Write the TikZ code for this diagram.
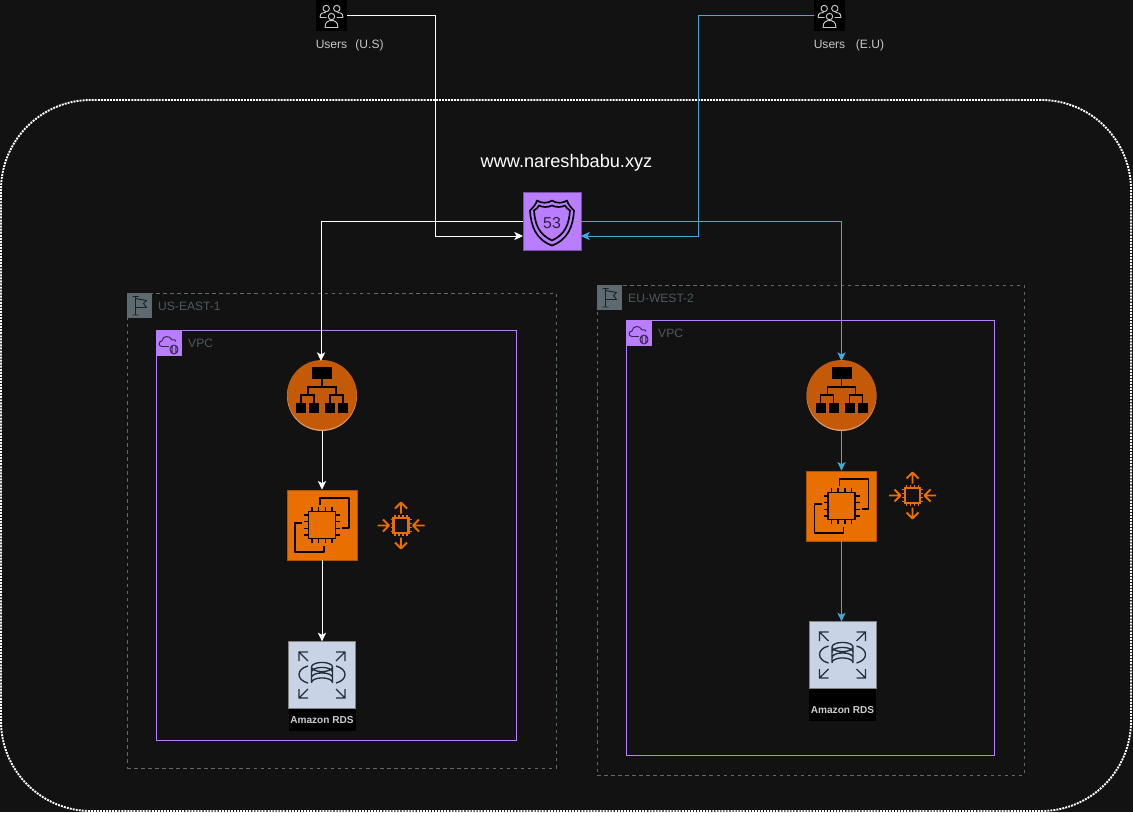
\documentclass[tikz,border=0pt]{standalone}
\usepackage{fontspec}
\setmainfont{Liberation Sans}
\usepackage{tikz}
\usetikzlibrary{arrows.meta, positioning, calc}
\definecolor{bgdark}{HTML}{121212}
\definecolor{wireblue}{HTML}{3FA9E0}
\definecolor{vpcpurple}{HTML}{B97DFF}
\definecolor{regiongrey}{HTML}{5D6B70}
\definecolor{textgrey}{HTML}{4E5A5E}
\definecolor{ec2orange}{HTML}{E86F00}
\definecolor{albbrown}{HTML}{C45A08}
\definecolor{rdsblue}{HTML}{C8D4E5}
\definecolor{inkdark}{HTML}{232F3E}

\begin{document}
\begin{tikzpicture}[
    x=0.03cm, y=-0.03cm,
    region/.style={rectangle, draw=regiongrey, dashed, line width=0.8pt, inner sep=0pt},
    vpcbox/.style={rectangle, draw=vpcpurple, line width=0.85pt, inner sep=0pt},
    tagbox/.style={rectangle, fill=#1, minimum size=0.765cm, inner sep=0pt},
    hlabel/.style={font=\fontsize{10.3}{12}\selectfont, text=textgrey, anchor=west, inner sep=0pt},
    userlabel/.style={font=\fontsize{10.3}{12}\selectfont, text=#1, inner sep=0pt},
    userlabel/.default={gray!45},
    rdslabel/.style={rectangle, fill=black, text=white!80!black, font=\fontsize{8.6}{10}\selectfont\bfseries, minimum width=2.01cm, inner sep=0pt},
    conn/.style={-{Stealth[length=7.4pt, width=7pt, inset=1.8pt]}, line width=0.85pt, #1},
    conn/.default={white},
    usersicon/.pic={
        \draw[gray!45!white, line width=0.85pt, line join=round]
            (-5.3,-7) circle (3.2) (5.3,-7) circle (3.2) (0,1) circle (3.2)
            (-11.5,2) .. controls (-11.5,-3) and (-8,-3) .. (-6,-3)
            (-11.5,2) -- (-5,2)
            (11.5,2) .. controls (11.5,-3) and (8,-3) .. (6,-3)
            (11.5,2) -- (5,2)
            (-6.5,12) .. controls (-6.5,6) and (-3,5) .. (0,5) .. controls (3,5) and (6.5,6) .. (6.5,12) -- cycle;
    },
    shieldicon/.pic={
        \draw[black, line width=1.4pt, line join=round]
            (-22,-11) .. controls (-19,-14) and (-16,-17) .. (-15,-21) .. controls (-11,-18) and (-4,-18) .. (0,-21)
            .. controls (4,-18) and (11,-18) .. (15,-21) .. controls (16,-17) and (19,-14) .. (22,-11)
            .. controls (21,5) and (16,18) .. (0,24) .. controls (-16,18) and (-21,5) .. (-22,-11) -- cycle;
        \draw[black, line width=1.4pt, line join=round]
            (-18,-11) .. controls (-16,-12) and (-14,-14) .. (-13,-16) .. controls (-9,-14) and (-4,-14) .. (0,-16)
            .. controls (4,-14) and (9,-14) .. (13,-16) .. controls (14,-14) and (16,-12) .. (18,-11)
            .. controls (17,3) and (13,13) .. (0,19) .. controls (-13,13) and (-17,3) .. (-18,-11) -- cycle;
        \node[text=black!75!vpcpurple, font=\fontsize{13.5}{14}\selectfont, inner sep=0pt] (shieldnum) at (0,1.5) {53};
    },
    albicon/.pic={
        \fill[albbrown!60!white] (0,0) circle (35);
        \fill[albbrown] (0,-1.2) circle (34.8);
        \fill[black] (-10,-29) rectangle (10,-17);
        \draw[black, line width=1.3pt] (0,-17) -- (0,-9) (-14,-1) -- (-14,-9) -- (14,-9) -- (14,-1)
            (-21,7) -- (-21,-1) -- (-8,-1) -- (-8,7) (8,7) -- (8,-1) -- (21,-1) -- (21,7);
        \foreach \leafx in {-21,-8,8,21}
            \fill[black] (\leafx-5,7) rectangle (\leafx+5,17);
    },
    ec2icon/.pic={
        \draw[black, line width=1.35pt, line join=round] (-13.5,-13.5) rectangle (13.5,13.5);
        \draw[black, line width=1.35pt, line join=round] (-2,-20) -- (-2,-27) -- (27,-27) -- (27,3) -- (20,3)
            (-20,-2) -- (-27,-2) -- (-27,27) -- (2,27) -- (2,21);
        \foreach \pin in {-10,-3.5,3.5,10} {
            \draw[black, line width=1.2pt] (\pin,-13.5) -- (\pin,-18) (\pin,13.5) -- (\pin,18)
                (-13.5,\pin) -- (-18,\pin) (13.5,\pin) -- (18,\pin);
        }
    },
    scaleicon/.pic={
        \draw[ec2orange, line width=2.2pt] (-7.5,-7.5) rectangle (7.5,7.5);
        \foreach \pin in {-6,-2,2,6} {
            \draw[ec2orange, line width=0.9pt] (\pin,-7.5) -- (\pin,-10.5) (\pin,7.5) -- (\pin,10.5)
                (-7.5,\pin) -- (-10.5,\pin) (7.5,\pin) -- (10.5,\pin);
        }
        \draw[ec2orange, line width=1.6pt, line join=round]
            (0,-12) -- (0,-23) (-6,-17) -- (0,-23) -- (6,-17)
            (0,12) -- (0,23) (-6,17) -- (0,23) -- (6,17)
            (-23.5,0) -- (-12,0) (-18,-6) -- (-12,0) -- (-18,6)
            (23.5,0) -- (12,0) (18,-6) -- (12,0) -- (18,6);
    },
    rdsicon/.pic={
        \draw[inkdark, line width=1.15pt, line join=round]
            (-10.5,-8) -- (-10.5,7.5) arc[start angle=180, end angle=360, x radius=10.5, y radius=4.6] -- (10.5,-8)
            (0,-8) ellipse [x radius=10.5, y radius=4.6]
            (-10.5,-3) arc[start angle=180, end angle=360, x radius=10.5, y radius=4.6]
            (-10.5,2.5) arc[start angle=180, end angle=360, x radius=10.5, y radius=4.6]
            (-14,-9) .. controls (-26,-6) and (-26,5) .. (-14,8)
            (14,-9) .. controls (26,-6) and (26,5) .. (14,8);
        \foreach \sx/\sy in {-1/-1,1/-1,-1/1,1/1} {
            \draw[inkdark, line width=1.15pt, line join=miter]
                (\sx*14,\sy*14) -- (\sx*23,\sy*23) (\sx*23,\sy*14) -- (\sx*23,\sy*23) -- (\sx*14,\sy*23);
        }
    },
    flagicon/.pic={
        \draw[black!70!regiongrey, line width=0.8pt, line join=round]
            (-4,-9) -- (-4,9) (-7,9.5) -- (-1,9.5) (-7,-9) -- (-1,-9)
            (-4,-7) -- (7,-5) -- (4,-2) -- (7,2) -- (-4,2);
    },
    vpcicon/.pic={
        \draw[black!70!vpcpurple, line width=0.8pt, line join=round]
            (0,3.5) -- (-7,3.5) .. controls (-11,3.5) and (-10.5,-2) .. (-7,-2)
            .. controls (-6.5,-7.5) and (1,-8) .. (3,-3) .. controls (5,-4) and (7,-3) .. (7,-1.5)
            (5,6.5) ellipse [x radius=4, y radius=4.5]
            (3.2,2.5) -- (3.2,10) (6.8,2.5) -- (6.8,10);
    }
]
\useasboundingbox (0,0) rectangle (1133,812);
\fill[bgdark] (0,0) rectangle (1133,812);

% === ZONA: DNS ===
\node[rectangle, draw=white, line width=1.6pt, dash pattern=on 1.7pt off 0.9pt, rounded corners=2.7cm, minimum width=33.9cm, minimum height=21.33cm, inner sep=0pt] (dnszone) at (566,455.5) {};
\node[text=white, font=\fontsize{15.5}{18}\selectfont, inner sep=0pt] (domain) at (566.5,163) {www.nareshbabu.xyz};

% === NODO: USUARIOS ===
\node[rectangle, fill=black, minimum size=0.93cm, inner sep=0pt] (usersus) at (331.5,15.5) {};
\pic at (usersus.center) {usersicon};
\node[userlabel] (usersuslabel) at (331.5,44) {Users};
\node[userlabel] (usregionlabel) at (369.5,45) {(U.S)};
\node[rectangle, fill=black, minimum size=0.93cm, inner sep=0pt] (userseu) at (829.5,15.5) {};
\pic at (userseu.center) {usersicon};
\node[userlabel] (userseulabel) at (829.5,44) {Users};
\node[userlabel] (euregionlabel) at (870,45) {(E.U)};

% === NODO: ROUTE 53 ===
\node[rectangle, draw=black!35!vpcpurple, fill=vpcpurple, line width=0.6pt, minimum size=1.74cm, inner sep=0pt] (dns) at (552,221.5) {};
\pic at (dns.center) {shieldicon};

% === NODO: US-EAST-1 ===
\node[region, minimum width=12.87cm, minimum height=14.25cm] (useast) at (341.5,530.5) {};
\node[tagbox=regiongrey, anchor=north west] (useasttag) at (useast.north west) {};
\pic at (useasttag.center) {flagicon};
\node[hlabel] (useastlabel) at (158,306) {US-EAST-1};
\node[vpcbox, minimum width=10.8cm, minimum height=12.3cm] (usvpc) at (336.5,535.5) {};
\node[tagbox=vpcpurple, anchor=north west] (usvpctag) at (usvpc.north west) {};
\pic at (usvpctag.center) {vpcicon};
\node[hlabel] (usvpclabel) at (188,343) {VPC};
\node[circle, minimum size=2.1cm, inner sep=0pt] (usalb) at (322,396) {};
\pic at (usalb.center) {albicon};
\node[rectangle, draw=black!25!ec2orange, fill=ec2orange, line width=0.5pt, minimum size=2.1cm, inner sep=0pt] (usec2) at (322,525) {};
\pic at (usec2.center) {ec2icon};
\node[minimum size=1.44cm, inner sep=0pt] (usscale) at (401,525.5) {};
\pic at (usscale.center) {scaleicon};
\node[rectangle, draw=gray, fill=rdsblue, line width=0.5pt, minimum size=2cm, inner sep=0pt] (usrds) at (322,675) {};
\pic at (usrds.center) {rdsicon};
\node[rdslabel, minimum height=0.66cm, below=0pt of usrds] (usrdslabel) {Amazon RDS};

% === NODO: EU-WEST-2 ===
\node[region, minimum width=12.81cm, minimum height=14.7cm] (euwest) at (810.5,530) {};
\node[tagbox=regiongrey, anchor=north west] (euwesttag) at (euwest.north west) {};
\pic at (euwesttag.center) {flagicon};
\node[hlabel] (euwestlabel) at (628,298) {EU-WEST-2};
\node[vpcbox, minimum width=11.04cm, minimum height=13.05cm] (euvpc) at (810.5,538) {};
\node[tagbox=vpcpurple, anchor=north west] (euvpctag) at (euvpc.north west) {};
\pic at (euvpctag.center) {vpcicon};
\node[hlabel] (euvpclabel) at (658,333) {VPC};
\node[circle, minimum size=2.1cm, inner sep=0pt] (eualb) at (841.5,396) {};
\pic at (eualb.center) {albicon};
\node[rectangle, draw=black!25!ec2orange, fill=ec2orange, line width=0.5pt, minimum size=2.1cm, inner sep=0pt] (euec2) at (841.5,506) {};
\pic at (euec2.center) {ec2icon};
\node[minimum size=1.44cm, inner sep=0pt] (euscale) at (912.5,495.5) {};
\pic at (euscale.center) {scaleicon};
\node[rectangle, draw=gray, fill=rdsblue, line width=0.5pt, minimum size=2cm, inner sep=0pt] (eurds) at (842.5,655) {};
\pic at (eurds.center) {rdsicon};
\node[rdslabel, minimum height=0.96cm, below=0pt of eurds] (eurdsbase) {};
\node[font=\fontsize{8.6}{10}\selectfont\bfseries, text=white!80!black, inner sep=0pt] (eurdslabel) at (842.5,710.5) {Amazon RDS};

% === CONEXIONES ===
\coordinate (usbend) at (435,15.5);
\coordinate (dnsinus) at (523,236);
\coordinate (eubend) at (698,15.5);
\coordinate (dnsineu) at (581,236);
\coordinate (usalbtop) at (321,361);
\coordinate (eualbtop) at (841.5,361);
\draw[conn] (usersus.east) -- (usbend) |- (dnsinus);
\draw[conn=wireblue] (userseu.west) -- (eubend) |- (dnsineu);
\draw[conn] (dns.west) -| (usalbtop);
\draw[conn=wireblue] (dns.east) -| (eualbtop);
\draw[conn] (usalb.south) -- (usec2.north);
\draw[conn] (usec2.south) -- (usrds.north);
\draw[conn=wireblue] (eualb.south) -- (euec2.north);
\draw[conn=wireblue] (euec2.south) -- (euec2.south |- eurds.north);

\end{tikzpicture}
\end{document}
